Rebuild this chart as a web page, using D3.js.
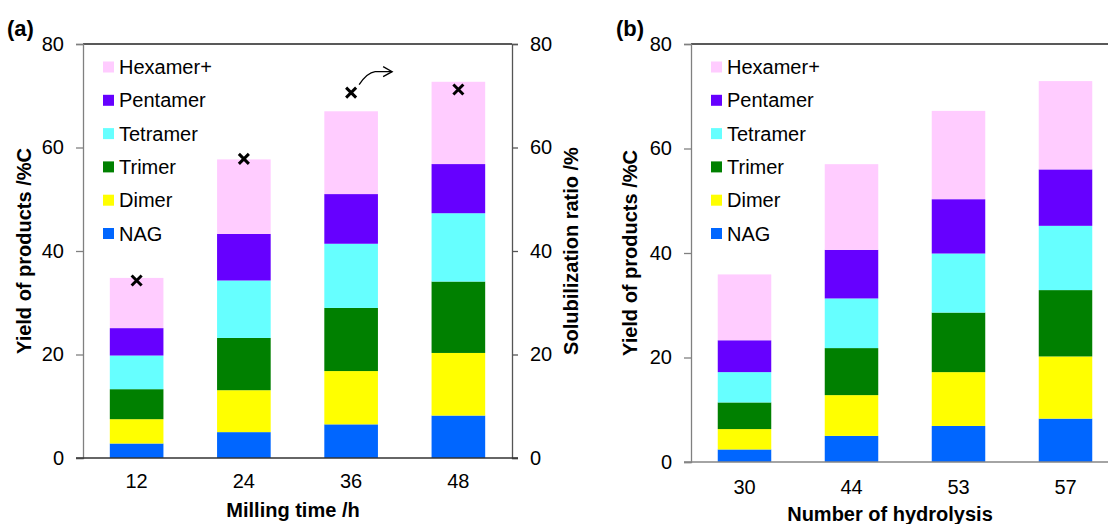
<!DOCTYPE html>
<html>
<head>
<meta charset="utf-8">
<script src="https://cdn.jsdelivr.net/npm/d3@7"></script>
<style>
    body { margin: 0; background: #fff; }
    svg { display: block; font-family: "Liberation Sans", Arial, sans-serif; }
</style>
</head>
<body>
<svg id="chart"></svg>
<script>
// product series, bottom to top of each stack
const seriesNames = ['NAG', 'Dimer', 'Trimer', 'Tetramer', 'Pentamer', 'Hexamer+'];
const seriesColors = ['#0066ff', '#ffff00', '#008000', '#66ffff', '#6600ff', '#ffccff'];
const yTicks = [0, 20, 40, 60, 80];

// (a) milling time
const millingTimes = ['12', '24', '36', '48'];
const millingNAG = [2.8, 5.0, 6.5, 8.2];
const millingDimer = [4.7, 8.1, 10.3, 12.1];
const millingTrimer = [5.8, 10.1, 12.2, 13.8];
const millingTetramer = [6.5, 11.1, 12.4, 13.2];
const millingPentamer = [5.3, 9.0, 9.6, 9.5];
const millingHexamer = [9.7, 14.4, 16.0, 15.9];
const solubilization = [34.3, 57.8, 70.6, 71.2];

// (b) number of hydrolysis
const hydrolysisNums = ['30', '44', '53', '57'];
const hydroNAG = [2.4, 5.0, 6.9, 8.3];
const hydroDimer = [3.9, 7.8, 10.3, 11.9];
const hydroTrimer = [5.1, 9.0, 11.4, 12.7];
const hydroTetramer = [5.8, 9.5, 11.3, 12.3];
const hydroPentamer = [6.1, 9.3, 10.4, 10.8];
const hydroHexamer = [12.6, 16.4, 16.9, 16.9];

function toRows(cats, cols) {
    return cats.map((c, i) => {
        let row = { cat: c };
        seriesNames.forEach((s, j) => { row[s] = cols[j][i]; });
        return row;
    });
}

const svg = d3.select('#chart')
    .attr('width', 1108)
    .attr('height', 524);

svg.append('rect').attr('width', 1108).attr('height', 524).attr('fill', '#fff');

const color = d3.scaleOrdinal().domain(seriesNames).range(seriesColors);

function drawPanel(cfg) {
    const g = svg.append('g');
    const x = d3.scaleBand().domain(cfg.cats).range([cfg.left, cfg.right]).paddingInner(0.5).paddingOuter(0.25);
    const y = d3.scaleLinear().domain([0, 80]).range([cfg.bottom, cfg.top]);

    const stack = d3.stack().keys(seriesNames)(cfg.rows);

    g.selectAll('g.layer')
        .data(stack)
        .join('g')
        .attr('class', 'layer')
        .attr('fill', d => color(d.key))
        .selectAll('rect')
        .data(d => d)
        .join('rect')
        .attr('x', d => x(d.data.cat))
        .attr('width', x.bandwidth())
        .attr('y', d => y(d[1]))
        .attr('height', d => y(d[0]) - y(d[1]));

    // plot border top
    g.append('line')
        .attr('x1', cfg.left).attr('x2', cfg.right)
        .attr('y1', cfg.top).attr('y2', cfg.top)
        .attr('stroke', '#222').attr('stroke-width', 1.3);

    // left axis
    const yAxis = g.append('g')
        .attr('transform', `translate(${cfg.left},0)`)
        .call(d3.axisLeft(y).tickValues(yTicks).tickSize(7).tickPadding(12));
    yAxis.selectAll('path, line').attr('stroke', '#808080').attr('stroke-width', 1.3);
    yAxis.selectAll('text').attr('font-size', 20).attr('fill', '#000').attr('font-family', null);

    if (cfg.rightAxis) {
        const yr = g.append('g')
            .attr('transform', `translate(${cfg.right},0)`)
            .call(d3.axisRight(y).tickValues(yTicks).tickSize(6).tickPadding(12));
        yr.selectAll('path, line').attr('stroke', '#555').attr('stroke-width', 1.3);
        yr.selectAll('text').attr('font-size', 20).attr('fill', '#000').attr('font-family', null);
    }

    // bottom axis
    const xAxis = g.append('g')
        .attr('transform', `translate(0,${cfg.bottom})`)
        .call(d3.axisBottom(x).tickSize(0).tickPadding(cfg.xPad));
    xAxis.select('.domain').attr('stroke', cfg.bottomColor).attr('stroke-width', 1.3)
        .attr('d', `M${cfg.left - 7},0H${cfg.right + (cfg.rightAxis ? 6 : 0)}`);
    xAxis.selectAll('text').attr('font-size', 20).attr('fill', '#000').attr('font-family', null);

    // axis titles
    g.append('text')
        .attr('transform', `translate(${cfg.yTitleX},${(cfg.top + cfg.bottom) / 2}) rotate(-90)`)
        .attr('text-anchor', 'middle').attr('dy', '0.35em')
        .attr('font-size', 20).attr('font-weight', 'bold')
        .text('Yield of products /%C');

    g.append('text')
        .attr('x', cfg.xTitleX).attr('y', cfg.xTitleY)
        .attr('text-anchor', 'middle')
        .attr('font-size', 20).attr('font-weight', 'bold')
        .text(cfg.xTitle);

    g.append('text')
        .attr('x', cfg.tagX).attr('y', 36)
        .attr('font-size', 22).attr('font-weight', 'bold')
        .text(cfg.tag);

    // legend, top entry is the last series
    const legend = g.append('g')
        .selectAll('g')
        .data(seriesNames.slice().reverse())
        .join('g')
        .attr('transform', (d, i) => `translate(${cfg.left + 20},${67 + i * 33.3})`);
    legend.append('rect')
        .attr('x', 0).attr('y', -5.5).attr('width', 11).attr('height', 11)
        .attr('fill', d => color(d));
    legend.append('text')
        .attr('x', 16).attr('dy', '0.35em')
        .attr('font-size', 20)
        .text(d => d);

    return { x, y, g };
}

const a = drawPanel({
    cats: millingTimes,
    rows: toRows(millingTimes, [millingNAG, millingDimer, millingTrimer, millingTetramer, millingPentamer, millingHexamer]),
    left: 83, right: 512, top: 44, bottom: 458,
    rightAxis: true, bottomColor: '#333', xPad: 16,
    yTitleX: 24, xTitle: 'Milling time /h', xTitleX: 293, xTitleY: 517,
    tag: '(a)', tagX: 7
});

// solubilization ratio markers
const markX = i => a.x(millingTimes[i]) + a.x.bandwidth() / 2;
a.g.selectAll('path.mark')
    .data(solubilization)
    .join('path')
    .attr('class', 'mark')
    .attr('d', (d, i) => {
        const cx = markX(i), cy = a.y(d);
        return `M${cx - 5},${cy - 5}L${cx + 5},${cy + 5}M${cx - 5},${cy + 5}L${cx + 5},${cy - 5}`;
    })
    .attr('stroke', '#000').attr('stroke-width', 3).attr('fill', 'none');

// arrow pointing to right axis
const ax = markX(2), ay = a.y(solubilization[2]);
a.g.append('path')
    .attr('d', `M${ax + 8},${ay - 8}Q${ax + 16},${ay - 20} ${ax + 24},${ay - 21}L${ax + 41},${ay - 21}`)
    .attr('stroke', '#000').attr('stroke-width', 1.3).attr('fill', 'none');
a.g.append('path')
    .attr('d', `M${ax + 32},${ay - 26}L${ax + 41},${ay - 21}L${ax + 32},${ay - 16}`)
    .attr('stroke', '#000').attr('stroke-width', 1.3).attr('fill', 'none');

// right axis title of panel (a)
a.g.append('text')
    .attr('transform', `translate(571,${(44 + 458) / 2}) rotate(-90)`)
    .attr('text-anchor', 'middle').attr('dy', '0.35em')
    .attr('font-size', 20).attr('font-weight', 'bold')
    .text('Solubilization ratio /%');

drawPanel({
    cats: hydrolysisNums,
    rows: toRows(hydrolysisNums, [hydroNAG, hydroDimer, hydroTrimer, hydroTetramer, hydroPentamer, hydroHexamer]),
    left: 691, right: 1119, top: 44, bottom: 462,
    rightAxis: false, bottomColor: '#868686', xPad: 18,
    yTitleX: 630, xTitle: 'Number of hydrolysis', xTitleX: 890, xTitleY: 521,
    tag: '(b)', tagX: 616
});
</script>
</body>
</html>
